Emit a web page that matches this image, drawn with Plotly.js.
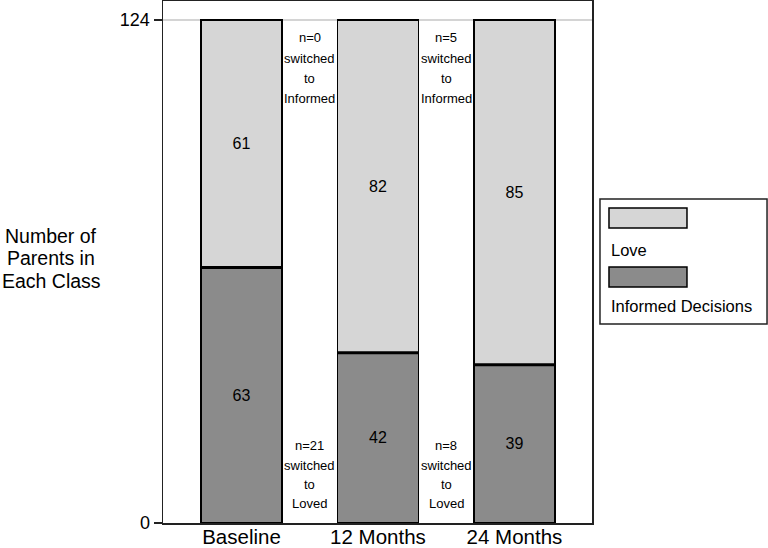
<!DOCTYPE html>
<html>
<head>
<meta charset="utf-8">
<script src="https://cdn.plot.ly/plotly-3.0.1.min.js"></script>
<style>html,body{margin:0;padding:0;background:#fff;}#chart{width:768px;height:548px;}</style>
</head>
<body>
<div id="chart"></div>
<script>
// ---- data ----
var categories = ['Baseline', '12 Months', '24 Months'];
var informedDecisions = [63, 42, 39];
var love = [61, 82, 85];
var yTicks = [0, 124];
var seriesNames = ['Love', 'Informed Decisions'];
var toInformedNotes = [['n=0', 'switched', 'to', 'Informed'], ['n=5', 'switched', 'to', 'Informed']];
var toLovedNotes = [['n=21', 'switched', 'to', 'Loved'], ['n=8', 'switched', 'to', 'Loved']];
var yTitleLines = ['Number of', 'Parents in', 'Each Class'];

// ---- style ----
var FONT = 'Liberation Sans, Arial, Helvetica, sans-serif';
var LIGHT = '#d6d6d6';
var DARK = '#8b8b8b';
var BAR_W = 0.593;

var barCommon = {
  type: 'bar',
  x: categories,
  width: BAR_W,
  textposition: 'inside',
  insidetextanchor: 'middle',
  textfont: {family: FONT, size: 16, color: '#000'},
  hoverinfo: 'none',
  showlegend: false
};

var traces = [
  Object.assign({}, barCommon, {
    name: seriesNames[1], y: informedDecisions, text: informedDecisions.map(String),
    marker: {color: DARK, line: {color: '#000', width: 1.6}}
  }),
  Object.assign({}, barCommon, {
    name: seriesNames[0], y: love, text: love.map(String),
    marker: {color: LIGHT, line: {color: '#000', width: 1.6}}
  })
];

var annotations = [];
var noteTopY = [119.6, 114.6, 109.7, 104.7];
var noteBotY = [19.2, 14.3, 9.4, 4.7];
function addNotes(notes, ys) {
  notes.forEach(function (lines, i) {
    lines.forEach(function (t, j) {
      annotations.push({
        xref: 'x', yref: 'y', x: i + 0.5, y: ys[j], text: t, showarrow: false,
        xanchor: 'center', yanchor: 'middle',
        font: {family: FONT, size: 13, color: '#000'}
      });
    });
  });
}
addNotes(toInformedNotes, noteTopY);
addNotes(toLovedNotes, noteBotY);

// y-axis title (horizontal, three lines)
var yTitleY = [0.550, 0.507, 0.464];
yTitleLines.forEach(function (t, j) {
  annotations.push({
    xref: 'paper', yref: 'paper', x: -0.261, y: yTitleY[j], text: t, showarrow: false,
    xanchor: 'center', yanchor: 'middle',
    font: {family: FONT, size: 19.5, color: '#000'}
  });
});

// custom legend (label under swatch)
var shapes = [
  {type: 'rect', xref: 'paper', yref: 'paper', x0: 1.0186, x1: 1.408, y0: 0.381, y1: 0.6207,
   line: {color: '#222', width: 1.5}, fillcolor: 'rgba(0,0,0,0)'},
  {type: 'rect', xref: 'paper', yref: 'paper', x0: 1.0396, x1: 1.2214, y0: 0.5651, y1: 0.6034,
   line: {color: '#000', width: 1.5}, fillcolor: LIGHT},
  {type: 'rect', xref: 'paper', yref: 'paper', x0: 1.0396, x1: 1.2214, y0: 0.452, y1: 0.4904,
   line: {color: '#000', width: 1.5}, fillcolor: DARK}
];
// thicker divider between the stacked segments
informedDecisions.forEach(function (v, i) {
  shapes.push({type: 'line', xref: 'x', yref: 'y', x0: i - BAR_W / 2, x1: i + BAR_W / 2,
    y0: v, y1: v, line: {color: '#000', width: 3}});
});
annotations.push({
  xref: 'paper', yref: 'paper', x: 1.0396, y: 0.523, text: seriesNames[0], showarrow: false,
  xanchor: 'left', yanchor: 'middle', font: {family: FONT, size: 16.5, color: '#000'}
});
annotations.push({
  xref: 'paper', yref: 'paper', x: 1.0396, y: 0.4157, text: seriesNames[1], showarrow: false,
  xanchor: 'left', yanchor: 'middle', font: {family: FONT, size: 16.5, color: '#000'}
});

var layout = {
  width: 768, height: 548,
  margin: {l: 163, r: 176, t: 1, b: 25, pad: 0},
  paper_bgcolor: '#fff', plot_bgcolor: '#fff',
  barmode: 'stack',
  showlegend: false,
  font: {family: FONT, color: '#000'},
  xaxis: {
    type: 'category',
    range: [-0.575, 2.568],
    showline: true, linecolor: '#222', linewidth: 1.5, mirror: true,
    ticks: '', showgrid: false, zeroline: false,
    ticklabelstandoff: -5,
    tickfont: {family: FONT, size: 20.5, color: '#000'},
    fixedrange: true
  },
  yaxis: {
    range: [0, 128.7],
    tickvals: yTicks, ticktext: yTicks.map(String),
    ticks: 'outside', ticklen: 8, tickwidth: 1.5, tickcolor: '#222',
    showline: true, linecolor: '#222', linewidth: 1.5, mirror: true,
    showgrid: true, gridcolor: '#d4d4d4', gridwidth: 1.5,
    zeroline: false,
    tickfont: {family: FONT, size: 18, color: '#000'},
    fixedrange: true
  },
  annotations: annotations,
  shapes: shapes
};

Plotly.newPlot('chart', traces, layout, {displayModeBar: false, staticPlot: true});
</script>
</body>
</html>
